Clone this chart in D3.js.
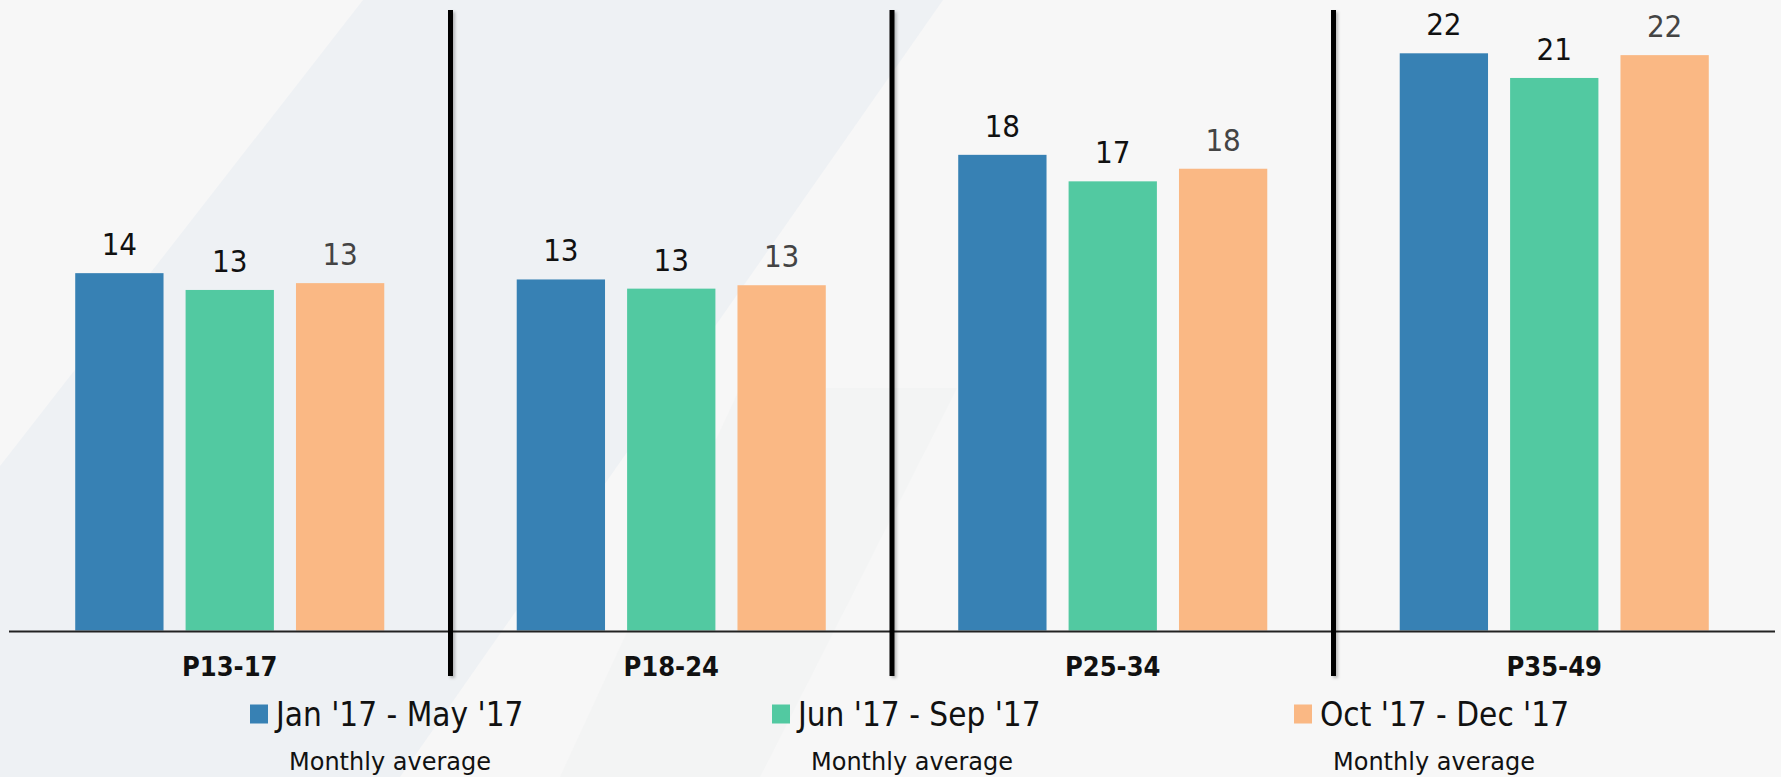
<!DOCTYPE html>
<html>
<head>
<meta charset="utf-8">
<style>
  body { margin: 0; background: #f7f7f7; }
  svg { display: block; }
  text { font-family: "DejaVu Sans Condensed", "DejaVu Sans", sans-serif; font-stretch: condensed; }
  .val { font-size: 31px; }
  .cat { font-size: 27px; font-weight: bold; }
  .leg { font-size: 33px; }
  .sub { font-size: 24px; font-family: "DejaVu Sans", sans-serif; font-stretch: normal; }
</style>
</head>
<body>
<svg id="chart" width="1781" height="777"></svg>
<script src="https://d3js.org/d3.v7.min.js"></script>
<script>

// age groups on the x axis
var categories = ["P13-17", "P18-24", "P25-34", "P35-49"]

// the three periods, in legend order
var series = ["Jan '17 - May '17", "Jun '17 - Sep '17", "Oct '17 - Dec '17"]
var seriesColors = ["#3781b4", "#52c9a1", "#fab884"]
var labelColors = ["#111", "#111", "#444"]

// values (labels show them rounded)
var janMay = [13.62, 13.38, 18.13, 22.0]
var junSep = [12.98, 13.03, 17.12, 21.06]
var octDec = [13.24, 13.16, 17.60, 21.93]
var seriesValues = [janMay, junSep, octDec]

var subLabel = "Monthly average"

var svg = d3.select("#chart"),
    width = +svg.attr("width"),
    height = +svg.attr("height")

// background decoration: slanted light band
var bg = svg.append("g")
bg.append("rect").attr("width", width).attr("height", height).attr("fill", "#f7f7f7")
bg.append("path")
  .attr("d", "M363,0 L943,0 L400,777 L0,777 L0,466 Z")
  .attr("fill", "#eef1f4")
bg.append("path")
  .attr("d", "M740,388 L957,388 L760,777 L560,777 Z")
  .attr("fill", "#eff2f1")
  .attr("opacity", 0.5)

var x0 = d3.scaleBand()
    .domain(categories)
    .range([9, 1775])

var x1 = d3.scaleBand()
    .domain(series)
    .range([0, x0.bandwidth()])
    .paddingInner(0.2)
    .paddingOuter(0.6)

var y = d3.scaleLinear()
    .domain([0, 22])
    .range([630.5, 53.3])

var defs = svg.append("defs")
var shadow = defs.append("filter").attr("id", "shadow")
  .attr("x", "-100%").attr("y", "-5%").attr("width", "300%").attr("height", "110%")
shadow.append("feDropShadow")
  .attr("dx", 2).attr("dy", 2).attr("stdDeviation", 1.5)
  .attr("flood-color", "#000").attr("flood-opacity", 0.25)

// bars
var groups = svg.append("g").selectAll("g")
  .data(categories)
  .enter().append("g")
  .attr("transform", d => "translate(" + x0(d) + ",0)")

groups.selectAll("rect")
  .data((d, i) => series.map((s, j) => ({ s: s, j: j, v: seriesValues[j][i] })))
  .enter().append("rect")
  .attr("x", d => x1(d.s))
  .attr("y", d => y(d.v))
  .attr("width", x1.bandwidth())
  .attr("height", d => y(0) - y(d.v))
  .attr("fill", d => seriesColors[d.j])

groups.selectAll("text")
  .data((d, i) => series.map((s, j) => ({ s: s, j: j, v: seriesValues[j][i] })))
  .enter().append("text")
  .attr("class", "val")
  .attr("x", d => x1(d.s) + x1.bandwidth() / 2)
  .attr("y", d => y(d.v) - 18)
  .attr("text-anchor", "middle")
  .attr("fill", d => labelColors[d.j])
  .text(d => Math.round(d.v))

// x axis line + category labels
svg.append("line")
  .attr("x1", x0.range()[0]).attr("x2", x0.range()[1])
  .attr("y1", y(0) + 1).attr("y2", y(0) + 1)
  .attr("stroke", "#222").attr("stroke-width", 2)

svg.append("g").selectAll("text")
  .data(categories)
  .enter().append("text")
  .attr("class", "cat")
  .attr("x", d => x0(d) + x0.bandwidth() / 2)
  .attr("y", 676)
  .attr("text-anchor", "middle")
  .attr("fill", "#111")
  .text(d => d)

// vertical dividers between groups (rects so the shadow filter has a box)
svg.append("g").selectAll("rect")
  .data(categories.slice(1))
  .enter().append("rect")
  .attr("x", d => x0(d) - 2.5)
  .attr("y", 10)
  .attr("width", 5)
  .attr("height", 666)
  .attr("fill", "#000")
  .attr("filter", "url(#shadow)")

// legend
var legend = svg.append("g").selectAll("g")
  .data(series)
  .enter().append("g")
  .attr("transform", (d, i) => "translate(" + (250 + i * 522) + ",0)")

legend.append("rect")
  .attr("x", 0).attr("y", 704.5)
  .attr("width", 18).attr("height", 19)
  .attr("fill", (d, i) => seriesColors[i])

legend.append("text")
  .attr("class", "leg")
  .attr("x", 26).attr("y", 726)
  .attr("fill", "#111")
  .text(d => d)

legend.append("text")
  .attr("class", "sub")
  .attr("x", 140).attr("y", 770)
  .attr("text-anchor", "middle")
  .attr("fill", "#111")
  .text(subLabel)

</script>
</body>
</html>
